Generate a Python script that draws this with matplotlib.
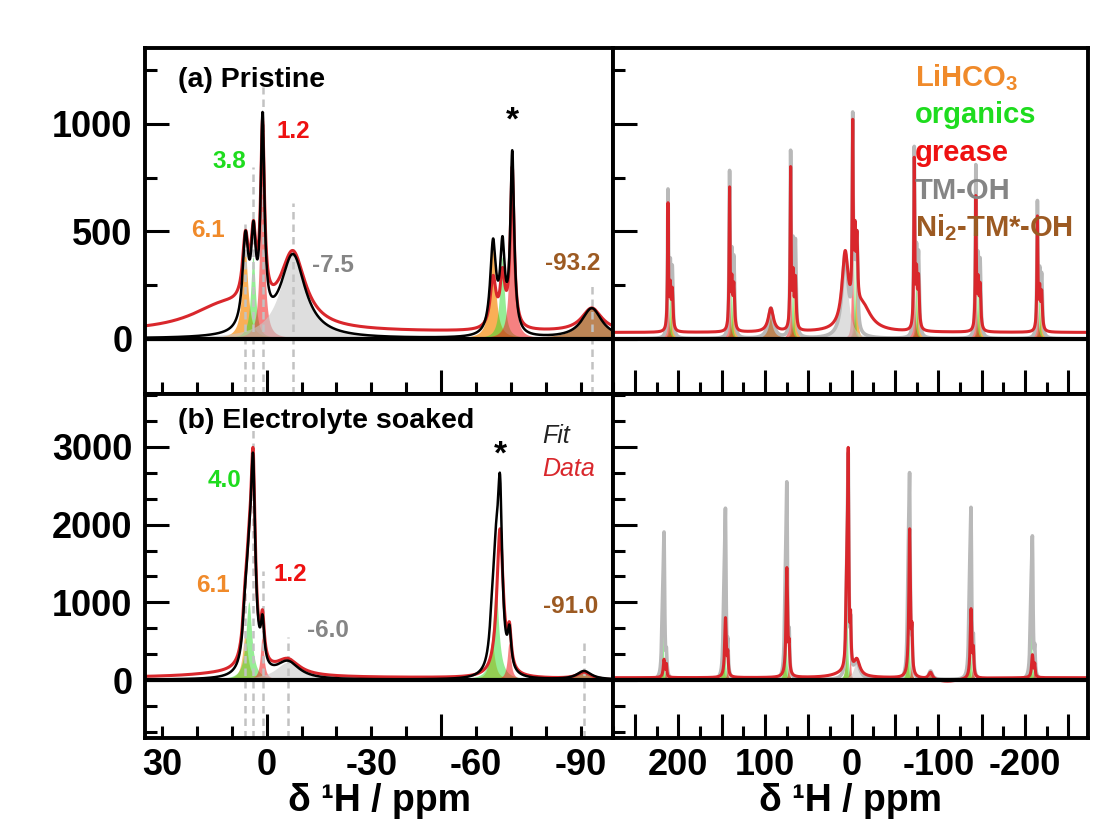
import numpy as np
import matplotlib.pyplot as plt
from matplotlib.ticker import MultipleLocator, FuncFormatter, NullFormatter

plt.rcParams['font.family'] = ['Liberation Sans', 'DejaVu Sans']
plt.rcParams['font.weight'] = 'bold'
plt.rcParams['axes.labelweight'] = 'bold'
plt.rcParams['mathtext.fontset'] = 'custom'
plt.rcParams['mathtext.rm'] = 'Liberation Sans:bold'
plt.rcParams['mathtext.bf'] = 'Liberation Sans:bold'
plt.rcParams['mathtext.default'] = 'bf'

FIG_DPI = 100
FIG_SIZE = (11.08, 8.22)

# colours per species
COL_LIHCO3 = '#f7941d'
COL_ORG = '#2edc2e'
COL_GREASE = '#f01a1a'
COL_TMOH = '#c8c8c8'
COL_NI = '#a65c1e'
COL_DATA = '#d9272c'
COL_DASH = '#c2c2c2'
TXT_LIHCO3 = '#f08a2a'
TXT_ORG = '#1edc1e'
TXT_GREASE = '#ee1111'
TXT_TMOH = '#858585'
TXT_NI = '#9c5a22'

# shift grid (ppm)
PPM = np.linspace(-290, 290, 29001)

# ---------------- (a) pristine : fitted lines, incl. spinning sidebands -------------
A_LIHCO3_POS = [-206.9, -135.9, -64.9, 6.1, 77.1, 148.1, 219.1]
A_LIHCO3_H = [300, 340, 420, 410, 360, 330, 270]
A_ORG_POS = [-209.2, -138.2, -67.6, 3.8, 74.8, 145.8, 216.8]
A_ORG_H = [290, 330, 380, 380, 340, 310, 260]
A_GREASE_POS = [-211.8, -140.8, -70.4, 1.2, 72.2, 143.2, 214.2]
A_GREASE_H = [660, 740, 830, 930, 850, 770, 610]
A_TMOH_POS = [-7.5]
A_TMOH_H = [385]
A_NI_POS = [-93.2]
A_NI_H = [140]
A_HWHM = [1.0, 0.8, 0.65, 4.3, 3.5]   # LiHCO3, organics, grease, TM-OH, Ni2-TM*-OH

# measured trace (a)
A_DATA_POS = [12.0, 6.1, 3.8, 1.2, -7.5, -93.2,
              -64.9, -67.6, -70.4, -135.9, -138.2, -140.8, -206.9, -209.2, -211.8,
              77.1, 74.8, 72.2, 148.1, 145.8, 143.2, 219.1, 216.8, 214.2]
A_DATA_H = [120, 300, 300, 820, 340, 110,
            230, 230, 740, 200, 200, 650, 180, 180, 580,
            230, 230, 780, 200, 200, 610, 170, 170, 520]
A_DATA_W = [12.0, 1.0, 0.8, 0.65, 4.3, 3.5,
            1.0, 0.8, 0.65, 1.0, 0.8, 0.65, 1.0, 0.8, 0.65,
            1.0, 0.8, 0.65, 1.0, 0.8, 0.65, 1.0, 0.8, 0.65]
A_DATA_OFFSET = 30

# ---------------- (b) electrolyte soaked -------------
B_LIHCO3_POS = [-206.3, -135.5, -64.7, 6.1, 76.9, 147.7, 218.5]
B_LIHCO3_H = [380, 430, 480, 560, 500, 450, 400]
B_ORG_POS = [-207.4, -136.6, -65.8, 5.0, 75.8, 146.6, 217.4]
B_ORG_H = [862, 1030, 1200, 1000, 1030, 927, 772]
B_ELEC_POS = [-208.5, -137.7, -66.9, 3.9, 74.7, 145.5, 216.3]
B_ELEC_H = [1375, 1650, 2005, 2320, 1970, 1690, 1470]
B_GREASE_POS = [-211.2, -140.4, -69.6, 1.2, 72.0, 142.8, 213.6]
B_GREASE_H = [300, 400, 470, 540, 450, 350, 250]
B_TMOH_POS = [-6.0]
B_TMOH_H = [220]
B_NI_POS = [-91.0]
B_NI_H = [110]
B_HWHM = [0.9, 1.0, 0.75, 0.6, 4.0, 2.5]   # LiHCO3, organics, electrolyte, grease, TM-OH, Ni

B_DATA_POS = [10.0, 6.1, 5.0, 3.9, 1.2, -6.0, -91.0, -110.0,
              -66.9, -69.6, -137.7, -140.4, -208.5, -211.2,
              74.7, 72.0, 145.5, 142.8, 216.3, 213.6]
B_DATA_H = [50, 560, 1000, 2320, 540, 200, 90, -50,
            1900, 450, 890, 300, 290, 150,
            1400, 300, 760, 250, 230, 150]
B_DATA_W = [14.0, 0.9, 1.0, 0.75, 0.6, 4.0, 2.5, 20.0,
            1.1, 0.6, 1.1, 0.6, 1.1, 0.6,
            1.1, 0.6, 1.1, 0.6, 1.1, 0.6]
B_DATA_OFFSET = 30

# peak labels: (text, x ppm, y baseline, colour)
A_LABELS = [('6.1', 17.0, 476, TXT_LIHCO3), ('3.8', 10.8, 794, TXT_ORG),
            ('1.2', -7.7, 933, TXT_GREASE), ('-7.5', -19.1, 313, TXT_TMOH),
            ('-93.2', -87.6, 321, TXT_NI)]
A_DASH_POS = [6.1, 3.8, 1.2, -7.5, -93.2]
A_DASH_TOP = [560, 800, 1170, 630, 250]
B_LABELS = [('4.0', 12.2, 2480, TXT_ORG), ('6.1', 15.3, 1137, TXT_LIHCO3),
            ('1.2', -6.7, 1278, TXT_GREASE), ('-6.0', -17.6, 557, TXT_TMOH),
            ('-91.0', -87.2, 858, TXT_NI)]
B_DASH_POS = [6.1, 4.0, 1.2, -6.0, -91.0]
B_DASH_TOP = [1400, 3350, 1400, 560, 540]

LEGEND_TEXT = ['LiHCO$_3$', 'organics', 'grease', 'TM-OH', 'Ni$_2$-TM*-OH']
LEGEND_COL = [TXT_LIHCO3, TXT_ORG, TXT_GREASE, TXT_TMOH, TXT_NI]

NARROW_XLIM = (34.9, -99.3)
WIDE_XLIM = (275.3, -272.5)
A_YLIM = (-256, 1353)
B_YLIM = (-746, 3681)


def lorentz(x, pos, height, hwhm):
    pos = np.atleast_1d(np.asarray(pos, dtype=float))
    height = np.atleast_1d(np.asarray(height, dtype=float))
    hwhm = np.atleast_1d(np.asarray(hwhm, dtype=float))
    return (height / (1.0 + ((x[:, None] - pos) / hwhm) ** 2)).sum(axis=1)


def draw_spectrum(ax, components, data, sign=1, fit_colour='black', fit_lw=1.8, fit_z=5):
    """Fill each fitted species, then the measured trace and the total fit."""
    fit = np.zeros_like(PPM)
    for pos, h, w, colour, alpha in components:
        y = lorentz(PPM, pos, h, w)
        fit += y
        if colour is not None:
            ax.fill_between(sign * PPM, 0, y, facecolor=colour, alpha=alpha, lw=0, zorder=2)
    ax.plot(sign * PPM, data, color=COL_DATA, lw=2.2, zorder=4)
    ax.plot(sign * PPM, fit, color=fit_colour, lw=fit_lw, zorder=fit_z)


def label_every(step):
    def fmt(v, _):
        if abs(v / step - round(v / step)) > 1e-6:
            return ''
        return f'{0 if abs(v) < 1e-9 else v:.0f}'
    return FuncFormatter(fmt)


def style_axes(ax, xlim, ylim, x_major, x_minor, y_major, y_minor,
               xfmt=None, xfmt_minor=None, show_y=False):
    ax.set_xlim(*xlim)
    ax.set_ylim(*ylim)
    ax.xaxis.set_major_locator(MultipleLocator(x_major))
    ax.xaxis.set_minor_locator(MultipleLocator(x_minor))
    ax.yaxis.set_major_locator(MultipleLocator(y_major))
    ax.yaxis.set_minor_locator(MultipleLocator(y_minor))
    ax.tick_params(which='major', direction='in', length=17, width=2.2, labelsize=26,
                   top=False, right=False, pad=7)
    ax.tick_params(which='minor', direction='in', length=8.5, width=2.2, labelsize=26,
                   top=False, right=False, pad=7)
    ax.tick_params(axis='y', which='both', labelleft=show_y, pad=9)
    if xfmt is None:
        ax.tick_params(axis='x', which='both', labelbottom=False)
    else:
        ax.xaxis.set_major_formatter(xfmt)
        ax.xaxis.set_minor_formatter(xfmt_minor if xfmt_minor is not None else NullFormatter())
    for s in ax.spines.values():
        s.set_linewidth(2.8)
        s.set_zorder(7)
    ax.axhline(0, color='black', lw=3.0, zorder=6)


fig = plt.figure(figsize=FIG_SIZE, dpi=FIG_DPI)
ax_a = fig.add_axes([0.1309, 0.5207, 0.4224, 0.4209])
ax_aw = fig.add_axes([0.5532, 0.5207, 0.4287, 0.4209])
ax_b = fig.add_axes([0.1309, 0.1022, 0.4224, 0.4185])
ax_bw = fig.add_axes([0.5532, 0.1022, 0.4287, 0.4185])

comps_a = [
    (A_LIHCO3_POS, A_LIHCO3_H, A_HWHM[0], COL_LIHCO3, 0.75),
    (A_ORG_POS, A_ORG_H, A_HWHM[1], COL_ORG, 0.5),
    (A_GREASE_POS, A_GREASE_H, A_HWHM[2], COL_GREASE, 0.55),
    (A_TMOH_POS, A_TMOH_H, A_HWHM[3], COL_TMOH, 0.6),
    (A_NI_POS, A_NI_H, A_HWHM[4], COL_NI, 0.75),
]
data_a = lorentz(PPM, A_DATA_POS, A_DATA_H, A_DATA_W) + A_DATA_OFFSET

comps_b = [
    (B_LIHCO3_POS, B_LIHCO3_H, B_HWHM[0], COL_LIHCO3, 0.6),
    (B_ORG_POS, B_ORG_H, B_HWHM[1], COL_ORG, 0.5),
    (B_ELEC_POS, B_ELEC_H, B_HWHM[2], None, 0),
    (B_GREASE_POS, B_GREASE_H, B_HWHM[3], COL_GREASE, 0.55),
    (B_TMOH_POS, B_TMOH_H, B_HWHM[4], COL_TMOH, 0.6),
    (B_NI_POS, B_NI_H, B_HWHM[5], COL_NI, 0.75),
]
data_b = lorentz(PPM, B_DATA_POS, B_DATA_H, B_DATA_W) + B_DATA_OFFSET

# narrow windows with black fit
draw_spectrum(ax_a, comps_a, data_a)
draw_spectrum(ax_b, comps_b, data_b)
# full sideband manifolds, fit in light grey; the wide view of (a) runs with the shift flipped
draw_spectrum(ax_aw, comps_a, data_a, sign=-1, fit_colour='#b9b9b9', fit_lw=2.6, fit_z=3)
draw_spectrum(ax_bw, comps_b, data_b, sign=1, fit_colour='#b9b9b9', fit_lw=2.6, fit_z=3)

ax_a.vlines(A_DASH_POS, A_YLIM[0], A_DASH_TOP, colors=COL_DASH, linestyles=(0, (3, 2)), lw=1.8, zorder=3)
ax_b.vlines(B_DASH_POS, B_YLIM[0], B_DASH_TOP, colors=COL_DASH, linestyles=(0, (3, 2)), lw=1.8, zorder=3)

style_axes(ax_a, NARROW_XLIM, A_YLIM, 50, 10, 500, 250, show_y=True)
style_axes(ax_aw, WIDE_XLIM, A_YLIM, 50, 25, 500, 250)
style_axes(ax_b, NARROW_XLIM, B_YLIM, 50, 10, 1000, 1000 / 3, show_y=True,
           xfmt=label_every(30), xfmt_minor=label_every(30))
style_axes(ax_bw, WIDE_XLIM, B_YLIM, 50, 25, 1000, 1000 / 3, xfmt=label_every(100))

for ax in (ax_b, ax_bw):
    ax.set_xlabel('δ ¹H / ppm', fontsize=27, fontweight='bold', labelpad=0)

# panel titles
ax_a.text(0.0705, 0.888, '(a) Pristine', transform=ax_a.transAxes, fontsize=20.5, va='baseline')
ax_b.text(0.0705, 0.900, '(b) Electrolyte soaked', transform=ax_b.transAxes, fontsize=20.5, va='baseline')

for txt, x, y, c in A_LABELS:
    ax_a.text(x, y, txt, color=c, fontsize=17.5, ha='center', va='baseline', zorder=8)
for txt, x, y, c in B_LABELS:
    ax_b.text(x, y, txt, color=c, fontsize=17.5, ha='center', va='baseline', zorder=8)

ax_a.text(-70.4, 972, '*', fontsize=24, ha='center', va='baseline')
ax_b.text(-66.9, 2780, '*', fontsize=24, ha='center', va='baseline')
ax_b.text(-79.0, 3046, 'Fit', fontsize=18, fontweight='normal', style='italic', color='#222222', va='baseline')
ax_b.text(-79.0, 2625, 'Data', fontsize=18, fontweight='normal', style='italic', color=COL_DATA, va='baseline')

legend_y = [0.891, 0.784, 0.674, 0.564, 0.455]
for txt, c, y in zip(LEGEND_TEXT, LEGEND_COL, legend_y):
    ax_aw.text(0.636, y, txt, color=c, fontsize=21, transform=ax_aw.transAxes, va='baseline', zorder=8)

fig.savefig('out.png', dpi=FIG_DPI)
